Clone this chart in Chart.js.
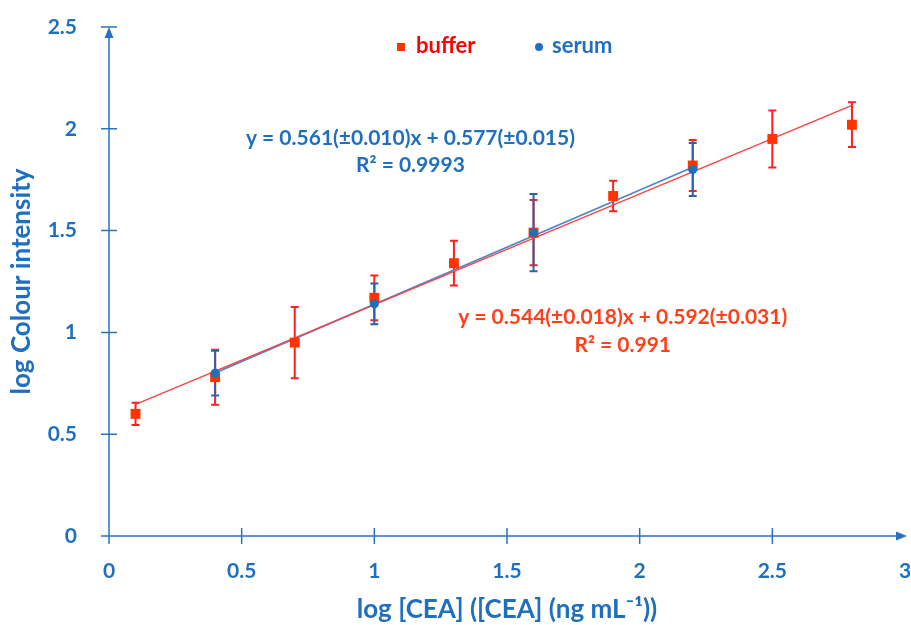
<!DOCTYPE html>
<html>
<head>
<meta charset="utf-8">
<script src="https://cdn.jsdelivr.net/npm/chart.js@4.4.1/dist/chart.umd.min.js"></script>
<style>
  html, body { margin: 0; padding: 0; background: #fff; }
  #wrap { width: 911px; height: 625px; }
</style>
</head>
<body>
<div id="wrap"><canvas id="chart"></canvas></div>
<script>
// --- data ---
const bufferX   = [0.1, 0.4, 0.7, 1.0, 1.3, 1.6, 1.9, 2.2, 2.5, 2.8];
const bufferY   = [0.60, 0.78, 0.95, 1.17, 1.34, 1.49, 1.67, 1.82, 1.95, 2.02];
const bufferErr = [0.055, 0.135, 0.175, 0.11, 0.11, 0.16, 0.075, 0.125, 0.14, 0.11];

const serumX   = [0.4, 1.0, 1.6, 2.2];
const serumY   = [0.80, 1.14, 1.49, 1.80];
const serumErr = [0.11, 0.10, 0.19, 0.13];

// fitted lines (end points as drawn)
const bufferFitX = [0.1, 2.8];
const bufferFitY = [0.646, 2.115];
const serumFitX  = [0.4, 2.2];
const serumFitY  = [0.801, 1.811];

const xTicks = [0, 0.5, 1, 1.5, 2, 2.5, 3];
const yTicks = [0, 0.5, 1, 1.5, 2, 2.5];

const serumEq  = ['y = 0.561(±0.010)x + 0.577(±0.015)', 'R² = 0.9993'];
const bufferEq = ['y = 0.544(±0.018)x + 0.592(±0.031)', 'R² = 0.991'];

// colours
const BLUE = '#1f6fbf';
const AXIS = '#2a72c0';
const RED_TXT = '#ff0000';
const RED_EQ = '#ff4019';
const RED_MK = '#ff3300';
const RED_BAR = '#ff1f1f';
const BLUE_BAR = '#2e62a6';
const FONT = 'Lato, "Open Sans", sans-serif';

const toPts = (xs, ys) => xs.map((v, i) => ({ x: v, y: ys[i] }));

// axes with arrows and crossing tick marks
const axesPlugin = {
    id: 'axes',
    beforeDatasetsDraw(chart) {
        const { ctx, scales: { x, y } } = chart;
        const x0 = x.getPixelForValue(0), y0 = y.getPixelForValue(0);
        const xEnd = x.getPixelForValue(3), yEnd = y.getPixelForValue(2.5);
        ctx.save();
        ctx.strokeStyle = AXIS;
        ctx.fillStyle = AXIS;
        ctx.lineWidth = 1.5;
        ctx.beginPath();
        ctx.moveTo(x0, y0); ctx.lineTo(x0, yEnd + 4);
        ctx.moveTo(x0, y0); ctx.lineTo(xEnd - 4, y0);
        yTicks.forEach(v => {
            const py = y.getPixelForValue(v);
            ctx.moveTo(x0 - 8, py); ctx.lineTo(x0 + 8, py);
        });
        xTicks.filter(v => v < 3).forEach(v => {
            const px = x.getPixelForValue(v);
            ctx.moveTo(px, y0 - 8); ctx.lineTo(px, y0 + 8);
        });
        ctx.stroke();
        // arrow heads
        ctx.beginPath();
        ctx.moveTo(x0, yEnd); ctx.lineTo(x0 - 4.5, yEnd + 11); ctx.lineTo(x0 + 4.5, yEnd + 11); ctx.closePath();
        ctx.moveTo(xEnd + 2, y0); ctx.lineTo(xEnd - 9, y0 - 4.5); ctx.lineTo(xEnd - 9, y0 + 4.5); ctx.closePath();
        ctx.fill();
        ctx.restore();
    }
};

// vertical error bars with caps
const errorBarPlugin = {
    id: 'errorBars',
    beforeDatasetsDraw(chart) {
        const { ctx, scales: { x, y } } = chart;
        const drawBars = (xs, ys, errs, color) => {
            ctx.save();
            ctx.strokeStyle = color;
            ctx.lineWidth = 2;
            ctx.beginPath();
            xs.forEach((v, i) => {
                const px = x.getPixelForValue(v);
                const top = y.getPixelForValue(ys[i] + errs[i]);
                const bot = y.getPixelForValue(ys[i] - errs[i]);
                ctx.moveTo(px, top); ctx.lineTo(px, bot);
                ctx.moveTo(px - 4, top); ctx.lineTo(px + 4, top);
                ctx.moveTo(px - 4, bot); ctx.lineTo(px + 4, bot);
            });
            ctx.stroke();
            ctx.restore();
        };
        drawBars(bufferX, bufferY, bufferErr, RED_BAR);
        drawBars(serumX, serumY, serumErr, BLUE_BAR);
    }
};

// legend + regression equations
const textPlugin = {
    id: 'texts',
    afterDraw(chart) {
        const { ctx, scales: { x, y } } = chart;
        ctx.save();
        ctx.font = 'bold 22px ' + FONT;
        ctx.textBaseline = 'middle';
        ctx.textAlign = 'left';
        // legend
        ctx.fillStyle = RED_MK;
        ctx.fillRect(397, 43, 8, 8);
        ctx.fillStyle = RED_TXT;
        ctx.fillText('buffer', 416, 46);
        ctx.fillStyle = BLUE;
        ctx.beginPath(); ctx.arc(539, 47, 4, 0, Math.PI * 2); ctx.fill();
        ctx.fillText('serum', 552, 46);
        // equations
        ctx.font = 'bold 21px ' + FONT;
        ctx.textAlign = 'center';
        ctx.fillStyle = BLUE;
        ctx.fillText(serumEq[0], x.getPixelForValue(1.136), y.getPixelForValue(1.956));
        ctx.fillText(serumEq[1], x.getPixelForValue(1.136), y.getPixelForValue(1.82));
        ctx.fillStyle = RED_EQ;
        ctx.fillText(bufferEq[0], x.getPixelForValue(1.936), y.getPixelForValue(1.074));
        ctx.fillText(bufferEq[1], x.getPixelForValue(1.936), y.getPixelForValue(0.936));
        ctx.restore();
    }
};

new Chart(document.getElementById('chart'), {
    type: 'scatter',
    data: {
        datasets: [
            {
                label: 'serum',
                data: toPts(serumX, serumY),
                pointStyle: 'circle',
                pointRadius: 4.5,
                backgroundColor: BLUE,
                borderColor: BLUE,
                borderWidth: 0
            },
            {
                label: 'buffer',
                data: toPts(bufferX, bufferY),
                pointStyle: 'rect',
                pointRadius: 7,
                backgroundColor: RED_MK,
                borderColor: RED_MK,
                borderWidth: 0
            },
            {
                type: 'line',
                label: 'buffer fit',
                data: toPts(bufferFitX, bufferFitY),
                borderColor: '#ff4040',
                borderWidth: 1.3,
                pointRadius: 0,
                fill: false
            },
            {
                type: 'line',
                label: 'serum fit',
                data: toPts(serumFitX, serumFitY),
                borderColor: '#4f88cc',
                borderWidth: 1.8,
                pointRadius: 0,
                fill: false
            }
        ]
    },
    options: {
        responsive: true,
        maintainAspectRatio: false,
        animation: false,
        layout: { autoPadding: false, padding: { top: 27, right: 6, left: 0, bottom: 0 } },
        plugins: {
            legend: { display: false },
            tooltip: { enabled: false }
        },
        scales: {
            x: {
                type: 'linear',
                min: 0,
                max: 3,
                afterBuildTicks: s => { s.ticks = xTicks.map(v => ({ value: v })); },
                afterFit: s => { s.height = 89; s.paddingLeft = 0; s.paddingRight = 0; },
                grid: { display: false },
                border: { display: false },
                ticks: {
                    padding: 15,
                    color: BLUE,
                    font: { family: FONT, size: 21, weight: 'bold' },
                    callback: v => String(v)
                },
                title: {
                    display: true,
                    text: 'log [CEA] ([CEA] (ng mL⁻¹))',
                    color: BLUE,
                    font: { family: FONT, size: 26, weight: 'bold' },
                    padding: { top: 4, bottom: 0 }
                }
            },
            y: {
                type: 'linear',
                min: 0,
                max: 2.5,
                afterBuildTicks: s => { s.ticks = yTicks.map(v => ({ value: v })); },
                afterFit: s => { s.width = 109; s.paddingTop = 0; s.paddingBottom = 0; },
                grid: { display: false },
                border: { display: false },
                ticks: {
                    padding: 24,
                    color: BLUE,
                    font: { family: FONT, size: 21, weight: 'bold' },
                    callback: v => String(v)
                },
                title: {
                    display: true,
                    text: 'log Colour intensity',
                    color: BLUE,
                    font: { family: FONT, size: 26, weight: 'bold' },
                    padding: { top: 6, bottom: 0 }
                }
            }
        }
    },
    plugins: [axesPlugin, errorBarPlugin, textPlugin]
});
</script>
</body>
</html>
